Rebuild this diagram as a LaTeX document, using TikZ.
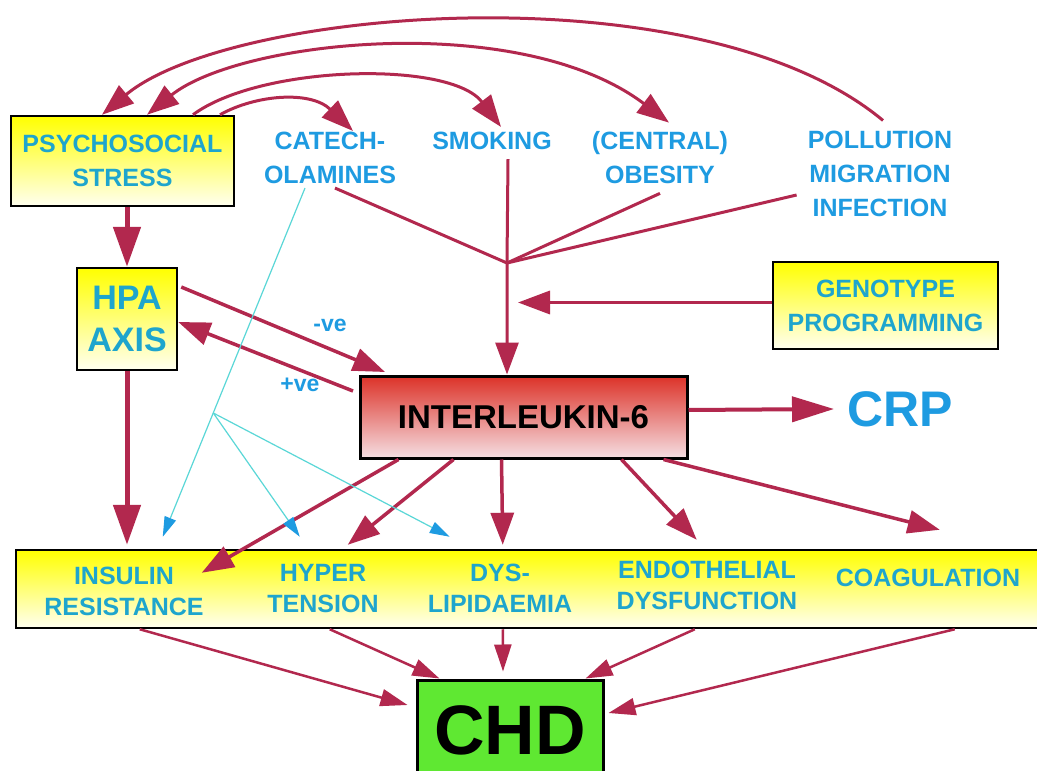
\documentclass[tikz,border=0pt]{standalone}
\usepackage{fontspec}
\setmainfont{Liberation Sans}
\usetikzlibrary{arrows.meta}
\definecolor{lbblue}{RGB}{30,155,225}
\definecolor{lbteal}{RGB}{30,165,205}
\definecolor{arred}{RGB}{178,40,78}
\definecolor{ilred}{RGB}{220,50,40}
\definecolor{ilpale}{RGB}{245,222,226}
\definecolor{chdgreen}{RGB}{95,232,50}
\definecolor{cyline}{RGB}{90,215,215}
\begin{document}
\begin{tikzpicture}[x=1pt,y=-1pt,
	yellowbox/.style={draw=black,line width=2.5pt,top color=yellow,middle color=yellow,bottom color=yellow!6,text=lbteal,align=center,inner sep=0pt},
	txt/.style={text=lbblue,align=center,inner sep=1pt},
	basefont/.style={font=\bfseries\fontsize{25}{34}\selectfont},
	bandfont/.style={font=\bfseries\fontsize{25}{31}\selectfont},
	redline/.style={draw=arred,line width=3pt},
	redarrow/.style={redline,-{Triangle[length=32pt,width=23pt]}},
	fatarrow/.style={draw=arred,line width=5pt,-{Triangle[length=40pt,width=27pt]}},
	chdarrow/.style={draw=arred,line width=2.5pt,-{Triangle[length=27pt,width=17pt]}},
	cyanarrow/.style={draw=cyline,line width=1.2pt,-{Triangle[length=20pt,width=12pt,color=lbblue]}}]
	\fill[white] (0,0) rectangle (1037,771);
	\useasboundingbox (0,0) rectangle (1037,771);
	\node[yellowbox,basefont,minimum width=223,minimum height=90] (stress) at (122.5,161) {PSYCHOSOCIAL\\STRESS};
	\node[yellowbox,font=\bfseries\fontsize{34}{42}\selectfont,minimum width=100,minimum height=102] (hpa) at (127,319) {HPA\\AXIS};
	\node[yellowbox,basefont,minimum width=225,minimum height=87] (geno) at (885.5,305.5) {GENOTYPE\\PROGRAMMING};
	\node[draw=black,line width=3pt,top color=ilred,bottom color=ilpale,minimum width=327,minimum height=82,font=\bfseries\fontsize{33}{40}\selectfont] (il6) at (523.5,417) {INTERLEUKIN-6};
	\node[yellowbox,minimum width=1045,minimum height=78] (band) at (538.5,589) {};
	\node[draw=black,line width=3pt,fill=chdgreen,minimum width=186,minimum height=100,font=\bfseries\fontsize{70}{72}\selectfont] (chd) at (510,730) {CHD};
	\node[txt,basefont] (catech) at (330,158) {CATECH-\\OLAMINES};
	\node[txt,basefont] (smoking) at (492,141) {SMOKING};
	\node[txt,basefont] (obesity) at (660,158) {(CENTRAL)\\OBESITY};
	\node[txt,basefont] (pollution) at (880,173.5) {POLLUTION\\MIGRATION\\INFECTION};
	\node[txt,font=\bfseries\fontsize{50}{52}\selectfont] (crp) at (900,409) {CRP};
	\node[txt,font=\bfseries\fontsize{23}{25}\selectfont] (neg) at (330,325) {-ve};
	\node[txt,font=\bfseries\fontsize{23}{25}\selectfont] (pos) at (300,385) {+ve};
	\node[txt,bandfont,text=lbteal] (insulin) at (124,591) {INSULIN\\RESISTANCE};
	\node[txt,bandfont,text=lbteal] (hyper) at (323,589) {HYPER\\TENSION};
	\node[txt,bandfont,text=lbteal] (dys) at (500,588) {DYS-\\LIPIDAEMIA};
	\node[txt,bandfont,text=lbteal] (endo) at (707,585) {ENDOTHELIAL\\DYSFUNCTION};
	\node[txt,bandfont,text=lbteal] (coag) at (928,578) {COAGULATION};
	\coordinate (fork) at (507,263);
	\draw[redarrow] ([xshift=3pt,yshift=9pt]pollution.north) .. controls (700,-32) and (230,8) .. ([xshift=-20.5pt]stress.north);
	\draw[redline,{Triangle[length=32pt,width=23pt]}-{Triangle[length=32pt,width=23pt]}] ([xshift=24.5pt]stress.north) .. controls (240,40) and (520,10) .. ([xshift=9pt,yshift=8pt]obesity.north);
	\draw[redarrow] ([xshift=70.5pt]stress.north) .. controls (260,65) and (450,60) .. ([xshift=9pt,yshift=4pt]smoking.north);
	\draw[redarrow] ([xshift=97.5pt]stress.north) .. controls (255,95) and (310,90) .. ([xshift=23pt]catech.north);
	\draw[fatarrow] (hpa.north |- stress.south) -- (hpa.north);
	\draw[fatarrow,shorten >=4pt] (hpa.south) -- (hpa.south |- band.north);
	\draw[redline] ([xshift=5pt,yshift=-3pt]catech.south) -- (fork);
	\draw[redline] ([yshift=-8pt]obesity.south) -- (fork);
	\draw[redline] ([xshift=-10pt,yshift=-21.5pt]pollution.west) -- (fork);
	\draw[redarrow] ([xshift=16pt,yshift=-8pt]smoking.south) -- (fork) -- (fork |- il6.north);
	\draw[redarrow,line width=3.5pt] ([yshift=3pt]geno.west) -- ([xshift=11pt,yshift=3pt]fork |- geno.west);
	\draw[redarrow,line width=3.5pt] ([xshift=3pt,yshift=32pt]hpa.east) -- ([xshift=26.5pt,yshift=2.5pt]il6.north west);
	\draw[redarrow,line width=3.5pt] ([xshift=-5.5pt,yshift=26pt]il6.west) -- ([yshift=-3pt]hpa.east);
	\draw[redarrow,line width=4pt,-{Triangle[length=42pt,width=25pt]}] ([yshift=7pt]il6.east) -- ([xshift=-12pt]crp.west);
	\draw[redarrow,line width=3.5pt] ([xshift=40pt]il6.south west) -- ([xshift=187pt,yshift=-24pt]band.north west);
	\draw[redarrow,line width=3.5pt] ([xshift=95pt]il6.south west) -- ([xshift=333pt,yshift=4pt]band.north west);
	\draw[redarrow,line width=3.5pt] ([xshift=143pt]il6.south west) -- ([xshift=488pt,yshift=4pt]band.north west);
	\draw[redarrow,line width=3.5pt] ([xshift=263pt]il6.south west) -- ([xshift=682pt,yshift=9pt]band.north west);
	\draw[redarrow,line width=3.5pt] ([xshift=305pt]il6.south west) -- ([xshift=925pt,yshift=19pt]band.north west);
	\draw[cyanarrow] ([xshift=-25pt,yshift=-3pt]catech.south) -- coordinate[pos=0.645] (split) ([xshift=148pt,yshift=12pt]band.north west);
	\draw[cyanarrow] (split) -- ([xshift=285pt,yshift=12pt]band.north west);
	\draw[cyanarrow] (split) -- ([xshift=435pt,yshift=12pt]band.north west);
	\draw[chdarrow] ([xshift=125pt]band.south west) -- ([xshift=-8pt,yshift=25pt]chd.west);
	\draw[chdarrow] ([xshift=315pt]band.south west) -- ([xshift=24pt]chd.north west);
	\draw[chdarrow] ([xshift=488pt]band.south west) -- ([xshift=-7pt,yshift=7pt]chd.north);
	\draw[chdarrow] ([xshift=680pt]band.south west) -- ([xshift=-19pt]chd.north east);
	\draw[chdarrow] ([xshift=940pt]band.south west) -- ([xshift=4pt,yshift=17pt]chd.east);
\end{tikzpicture}
\end{document}
